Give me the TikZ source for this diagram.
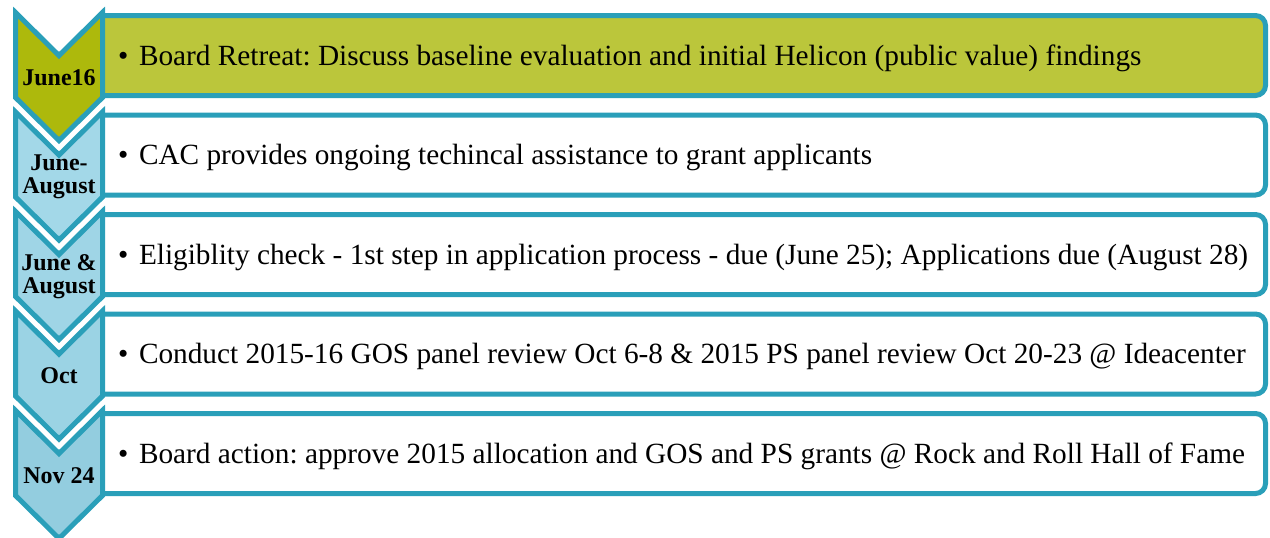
\documentclass[tikz,border=0pt]{standalone}
\usepackage{fontspec}
\setmainfont{Liberation Serif}
\usetikzlibrary{positioning}
\frenchspacing

\definecolor{rimcol}{RGB}{42,159,185}
\definecolor{olivedark}{RGB}{173,185,12}
\definecolor{olivelight}{RGB}{187,198,59}
\definecolor{skyA}{RGB}{163,216,232}
\definecolor{skyB}{RGB}{159,213,230}
\definecolor{skyC}{RGB}{155,211,228}
\definecolor{skyD}{RGB}{147,205,223}

\begin{document}
\begin{tikzpicture}[x=1pt, y=-1pt, line join=miter,
  rim/.style={draw=rimcol, line width=5pt},
  item/.style={anchor=base west, inner sep=0pt, font=\fontsize{29.3}{33}\selectfont},
  datelbl/.style={align=center, inner sep=0pt, font=\bfseries\fontsize{24}{23}\selectfont}]

\useasboundingbox (0,0) rectangle (1270,538);

% --- one row per step: band, chevron, date, text ---
\foreach \k/\chevc/\bandc/\when/\what in {%
  0/olivedark/olivelight/{June16}/{Board Retreat: Discuss baseline evaluation and initial Helicon (public value) findings},
  1/skyA/white/{June-\\August}/{CAC provides ongoing techincal assistance to grant applicants},
  2/skyB/white/{June \&\\August}/{Eligiblity check - 1st step in application process - due (June 25); Applications due (August 28)},
  3/skyC/white/{Oct}/{Conduct 2015-16 GOS panel review Oct 6-8 \& 2015 PS panel review Oct 20-23 @ Ideacenter},
  4/skyD/white/{Nov 24}/{Board action: approve 2015 allocation and GOS and PS grants @ Rock and Roll Hall of Fame}} {
  \pgfmathsetmacro{\T}{12.5+99.5*\k}
  % text band, square on the left, round on the right
  \draw[rim, fill=\bandc, rounded corners=10pt] (103,\T+3) -- (1265.5,\T+3) -- (1265.5,\T+83) -- (103,\T+83);
  % chevron
  \draw[rim, fill=\chevc] (15.5,\T) -- (59,\T+43) -- (102.5,\T) -- (102.5,\T+85) -- (59,\T+128) -- (15.5,\T+85) -- cycle;
  \node[datelbl] (date\k) at (59,\T+65) {\when};
  \node[item] (txt\k) at (118,\T+52.5) {\textbullet\hspace{0.36em}\what};
}

\end{tikzpicture}
\end{document}
